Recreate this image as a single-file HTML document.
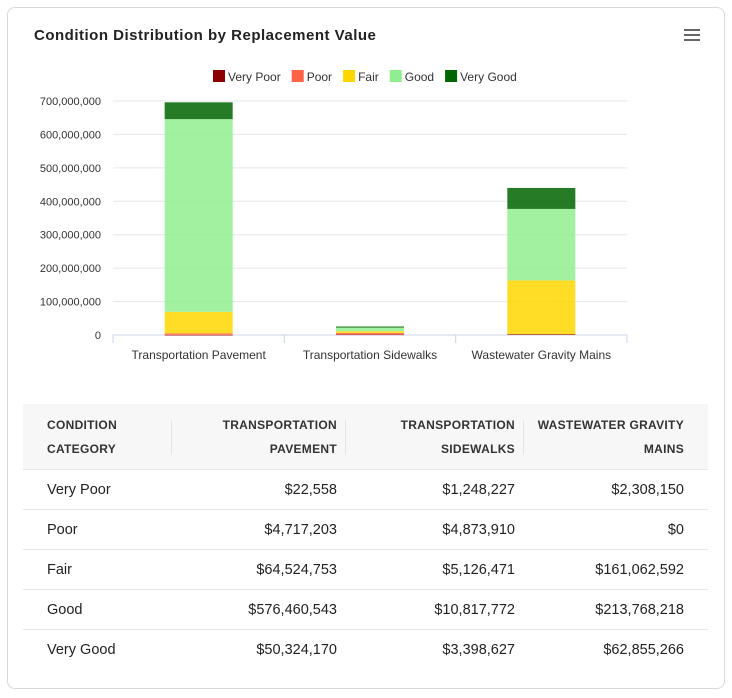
<!DOCTYPE html>
<html><head><meta charset="utf-8"><style>
body{margin:0;background:#fff;font-family:"Liberation Sans",Arial,sans-serif;}
.card{position:absolute;left:7px;top:7px;width:716px;height:680px;border:1px solid #d8d8d8;border-radius:8px;background:#fff;}
.title{position:absolute;left:26px;top:19px;font-size:15px;font-weight:bold;color:#222;letter-spacing:.5px}
.menu{position:absolute;left:676px;top:21px;width:16px;}
.menu div{height:2px;background:#666;margin-bottom:3px;}
table{position:absolute;left:23px;top:404px;width:685px;border-collapse:collapse;table-layout:fixed;font-size:14.5px;color:#222;}
th{background:#f7f7f7;font-size:12px;font-weight:bold;line-height:24px;padding:0 8px 0 0;text-align:right;height:65px;color:#333;letter-spacing:.3px;border-bottom:1px solid #e6e6e6;position:relative}
th:first-child{text-align:left;padding-left:24px}
th.sep::before{content:"";position:absolute;left:0;top:16px;bottom:14px;border-left:1px solid #e4e4e4}
td{height:39px;border-bottom:1px solid #e6e6e6;text-align:right;padding:0 8px 0 8px;}
td:first-child{text-align:left;padding-left:24px}
td:last-child,th:last-child{padding-right:24px}
</style></head><body>
<div class="card">
<div class="title">Condition Distribution by Replacement Value</div>
<div class="menu"><div></div><div></div><div></div></div>
</div>
<svg id="chart" width="732" height="380" style="position:absolute;left:0;top:0"></svg>
<table>
<colgroup><col style="width:148px"><col style="width:174px"><col style="width:178px"><col style="width:185px"></colgroup>
<tr><th>CONDITION<br>CATEGORY</th><th class="sep">TRANSPORTATION<br>PAVEMENT</th><th class="sep">TRANSPORTATION<br>SIDEWALKS</th><th class="sep">WASTEWATER GRAVITY<br>MAINS</th></tr>
<tr><td>Very Poor</td><td>$22,558</td><td>$1,248,227</td><td>$2,308,150</td></tr>
<tr><td>Poor</td><td>$4,717,203</td><td>$4,873,910</td><td>$0</td></tr>
<tr><td>Fair</td><td>$64,524,753</td><td>$5,126,471</td><td>$161,062,592</td></tr>
<tr><td>Good</td><td>$576,460,543</td><td>$10,817,772</td><td>$213,768,218</td></tr>
<tr><td style="border:none">Very Good</td><td style="border:none">$50,324,170</td><td style="border:none">$3,398,627</td><td style="border:none">$62,855,266</td></tr>
</table>
<script>
const categories=["Transportation Pavement","Transportation Sidewalks","Wastewater Gravity Mains"];
const seriesNames=["Very Poor","Poor","Fair","Good","Very Good"];
const veryPoor=[22558,1248227,2308150];
const poor=[4717203,4873910,0];
const fair=[64524753,5126471,161062592];
const good=[576460543,10817772,213768218];
const veryGood=[50324170,3398627,62855266];
const yTicks=[0,100000000,200000000,300000000,400000000,500000000,600000000,700000000];
const series=[veryPoor,poor,fair,good,veryGood];
const colors=["#8b0000","#ff6347","#ffd700","#90ee90","#006400"];
const svg=document.getElementById('chart');
const NS="http://www.w3.org/2000/svg";
const x0=113,x1=627,y0=335,y1=101,maxV=700000000;
const bw=(x1-x0)/categories.length;
function yS(v){return y0-(v/maxV)*(y0-y1);}
function xC(i){return x0+bw*(i+0.5);}
function mk(t,a){const e=document.createElementNS(NS,t);for(const k in a)e.setAttribute(k,a[k]);svg.appendChild(e);return e;}
yTicks.forEach(v=>{
 const l=mk('line',{x1:x0,x2:x1,y1:yS(v),y2:yS(v),stroke:'#e6e6e6'});
 
 
 const t=mk('text',{x:101,y:yS(v)+4,'text-anchor':'end','font-size':'11',fill:'#333','font-family':'Liberation Sans, sans-serif'});
 t.textContent=v.toLocaleString('en-US');
 
 
});
const ax=mk('line',{x1:x0,x2:x1,y1:y0,y2:y0,stroke:'#ccd6eb'});


for(let i=0;i<=categories.length;i++){const tk=mk('line',{x1:x0+bw*i,x2:x0+bw*i,y1:y0,y2:y0+8,stroke:'#ccd6eb'});
 
 }
categories.forEach((c,i)=>{
 let acc=0;
 series.forEach((s,j)=>{
  const v=s[i];const ya=yS(acc),yb=yS(acc+v);acc+=v;
  if(v<=0)return;
  const r=mk('rect',{x:xC(i)-34,y:yb,width:68,height:Math.max(ya-yb,0.5),fill:colors[j],'fill-opacity':0.85});
  
  
 });
 const t=mk('text',{x:xC(i),y:359,'text-anchor':'middle','font-size':'12',fill:'#333','font-family':'Liberation Sans, sans-serif'});
 t.textContent=c;
 
 
});
let lx=213;
seriesNames.forEach((n,j)=>{
 const g=document.createElementNS(NS,'g');svg.appendChild(g);
 
 
 const r=document.createElementNS(NS,'rect');
 r.setAttribute('x',lx);r.setAttribute('y',70);r.setAttribute('width',12);r.setAttribute('height',12);r.setAttribute('fill',colors[j]);g.appendChild(r);
 const t=document.createElementNS(NS,'text');
 t.setAttribute('x',lx+15);t.setAttribute('y',81);t.setAttribute('font-size','12');t.setAttribute('fill','#333');t.setAttribute('font-family','Liberation Sans, sans-serif');
 t.textContent=n;g.appendChild(t);
 lx+=15+t.getComputedTextLength()+11;
});
</script>
</body></html>
